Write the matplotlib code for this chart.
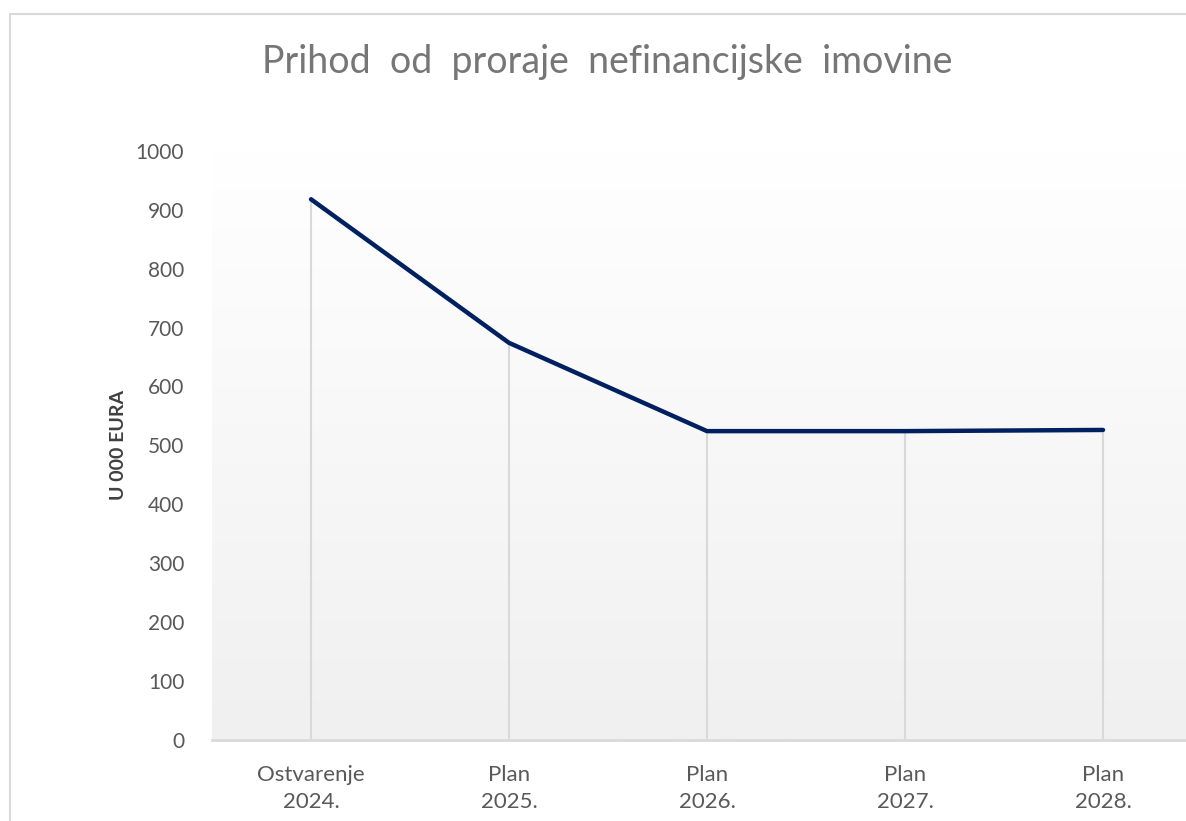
import numpy as np
import matplotlib.pyplot as plt
from matplotlib.patches import Rectangle

categories = ["Ostvarenje\n2024.", "Plan\n2025.", "Plan\n2026.", "Plan\n2027.", "Plan\n2028."]
values = [918, 674, 524, 524, 526]
y_ticks = list(range(0, 1001, 100))

title = "Prihod  od  proraje  nefinancijske  imovine"
y_label = "U 000 EURA"

line_color = "#002060"
drop_color = "#d9d9d9"
text_color = "#595959"

plt.rcParams['font.family'] = ['Lato', 'DejaVu Sans']

fig = plt.figure(figsize=(11.86, 8.21), dpi=100)
fig.patch.set_facecolor("white")

# outer chart frame (left and top edges visible)
fig.add_artist(Rectangle((10 / 1186, -0.1), 1.2, (821 - 14) / 821 + 0.1,
                         transform=fig.transFigure, fill=False,
                         edgecolor="#d9d9d9", linewidth=1.5))

ax = fig.add_axes([212 / 1186, 81.5 / 821, 990 / 1186, 588.5 / 821])
x = np.arange(len(categories))

# background gradient: white at top, light gray at bottom
grad = np.linspace(1.0, 0.0, 256).reshape(-1, 1)
ax.imshow(grad, extent=(-0.5, len(categories) - 0.5, 0, 1000), aspect="auto",
          cmap=plt.matplotlib.colors.LinearSegmentedColormap.from_list(
              "bg", ["#f0f0f0", "#ffffff"]),
          vmin=0, vmax=1, zorder=0, origin="upper")

ax.vlines(x, 0, values, color=drop_color, linewidth=1.5, zorder=1)
ax.plot(x, values, color=line_color, linewidth=3.2, solid_capstyle="round",
        solid_joinstyle="round", zorder=3)

ax.set_xlim(-0.5, len(categories) - 0.5)
ax.set_ylim(0, 1000)
ax.set_yticks(y_ticks)
ax.set_xticks(x)
ax.set_xticklabels(categories, fontsize=16, color=text_color, linespacing=1.45)
ax.tick_params(axis="y", length=0, labelsize=15, labelcolor=text_color, pad=20)
ax.tick_params(axis="x", length=0, pad=18)

for side in ["top", "right", "left"]:
    ax.spines[side].set_visible(False)
ax.spines["bottom"].set_color(drop_color)
ax.spines["bottom"].set_linewidth(2)
ax.spines["bottom"].set_zorder(4)

fig.text(118 / 1186, 1 - 445 / 821, y_label, rotation=90, ha="center", va="center",
         fontsize=14, color="#404040", fontweight="bold")
fig.text(607 / 1186, 1 - 62 / 821, title, ha="center", va="center",
         fontsize=27, color="#767676")

fig.savefig("out.png", dpi=100, facecolor="white")
